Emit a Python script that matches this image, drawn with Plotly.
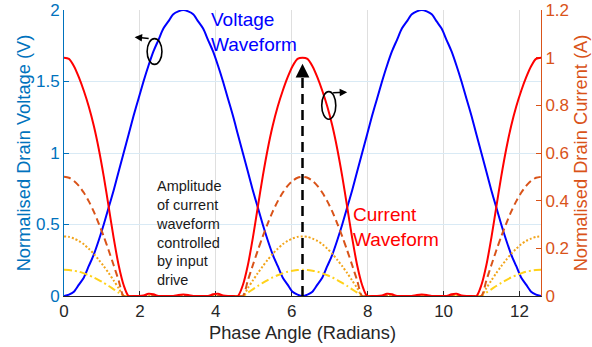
import plotly.graph_objects as go

# Phase angle samples (radians), 0 .. 4*pi in steps of pi/24
phase = [0.000, 0.131, 0.262, 0.393, 0.524, 0.654, 0.785, 0.916, 1.047, 1.178,
         1.309, 1.440, 1.571, 1.702, 1.833, 1.963, 2.094, 2.225, 2.356, 2.487,
         2.618, 2.749, 2.880, 3.011, 3.142, 3.272, 3.403, 3.534, 3.665, 3.796,
         3.927, 4.058, 4.189, 4.320, 4.451, 4.581, 4.712, 4.843, 4.974, 5.105,
         5.236, 5.367, 5.498, 5.629, 5.760, 5.890, 6.021, 6.152, 6.283,
         6.414, 6.545, 6.676, 6.807, 6.938, 7.069, 7.199, 7.330, 7.461, 7.592,
         7.723, 7.854, 7.985, 8.116, 8.247, 8.378, 8.508, 8.639, 8.770, 8.901,
         9.032, 9.163, 9.294, 9.425, 9.556, 9.687, 9.817, 9.948, 10.079, 10.210,
         10.341, 10.472, 10.603, 10.734, 10.865, 10.996, 11.126, 11.257, 11.388, 11.519,
         11.650, 11.781, 11.912, 12.043, 12.174, 12.305, 12.435, 12.566]

# Normalised drain voltage (V), left axis
voltage = [0.00, 0.01, 0.03, 0.08, 0.13, 0.21, 0.29, 0.39, 0.50, 0.62,
           0.74, 0.87, 1.00, 1.13, 1.26, 1.38, 1.50, 1.61, 1.71, 1.79,
           1.87, 1.92, 1.97, 1.99, 2.00, 1.99, 1.97, 1.92, 1.87, 1.79,
           1.71, 1.61, 1.50, 1.38, 1.26, 1.13, 1.00, 0.87, 0.74, 0.62,
           0.50, 0.39, 0.29, 0.21, 0.13, 0.08, 0.03, 0.01, 0.00,
           0.01, 0.03, 0.08, 0.13, 0.21, 0.29, 0.39, 0.50, 0.62, 0.74,
           0.87, 1.00, 1.13, 1.26, 1.38, 1.50, 1.61, 1.71, 1.79, 1.87,
           1.92, 1.97, 1.99, 2.00, 1.99, 1.97, 1.92, 1.87, 1.79, 1.71,
           1.61, 1.50, 1.38, 1.26, 1.13, 1.00, 0.87, 0.74, 0.62, 0.50,
           0.39, 0.29, 0.21, 0.13, 0.08, 0.03, 0.01, 0.00]

# Normalised drain current (A), right axis - full input drive
current_full = [1.000, 0.995, 0.964, 0.917, 0.860, 0.794, 0.714, 0.617, 0.502, 0.373,
                0.243, 0.129, 0.046, 0.000, 0.000, 0.000, 0.002, 0.009, 0.007, 0.000,
                0.000, 0.000, 0.000, 0.004, 0.006, 0.004, 0.000, 0.000, 0.000, 0.000,
                0.007, 0.009, 0.002, 0.000, 0.000, 0.000, 0.046, 0.129, 0.243, 0.373,
                0.502, 0.617, 0.714, 0.794, 0.860, 0.917, 0.964, 0.995, 1.000,
                0.995, 0.964, 0.917, 0.860, 0.794, 0.714, 0.617, 0.502, 0.373, 0.243,
                0.129, 0.046, 0.000, 0.000, 0.000, 0.002, 0.009, 0.007, 0.000, 0.000,
                0.000, 0.000, 0.004, 0.006, 0.004, 0.000, 0.000, 0.000, 0.000, 0.007,
                0.009, 0.002, 0.000, 0.000, 0.000, 0.046, 0.129, 0.243, 0.373, 0.502,
                0.617, 0.714, 0.794, 0.860, 0.917, 0.964, 0.995, 1.000]

# Reduced input drive levels
current_half = [0.500, 0.496, 0.483, 0.462, 0.433, 0.397, 0.354, 0.304, 0.250, 0.191,
                0.129, 0.065, 0.000, 0.000, 0.000, 0.000, 0.000, 0.000, 0.000, 0.000,
                0.000, 0.000, 0.000, 0.000, 0.000, 0.000, 0.000, 0.000, 0.000, 0.000,
                0.000, 0.000, 0.000, 0.000, 0.000, 0.000, 0.000, 0.065, 0.129, 0.191,
                0.250, 0.304, 0.354, 0.397, 0.433, 0.462, 0.483, 0.496, 0.500,
                0.496, 0.483, 0.462, 0.433, 0.397, 0.354, 0.304, 0.250, 0.191, 0.129,
                0.065, 0.000, 0.000, 0.000, 0.000, 0.000, 0.000, 0.000, 0.000, 0.000,
                0.000, 0.000, 0.000, 0.000, 0.000, 0.000, 0.000, 0.000, 0.000, 0.000,
                0.000, 0.000, 0.000, 0.000, 0.000, 0.000, 0.065, 0.129, 0.191, 0.250,
                0.304, 0.354, 0.397, 0.433, 0.462, 0.483, 0.496, 0.500]

current_quarter = [0.250, 0.248, 0.241, 0.231, 0.217, 0.198, 0.177, 0.152, 0.125, 0.096,
                   0.065, 0.033, 0.000, 0.000, 0.000, 0.000, 0.000, 0.000, 0.000, 0.000,
                   0.000, 0.000, 0.000, 0.000, 0.000, 0.000, 0.000, 0.000, 0.000, 0.000,
                   0.000, 0.000, 0.000, 0.000, 0.000, 0.000, 0.000, 0.033, 0.065, 0.096,
                   0.125, 0.152, 0.177, 0.198, 0.217, 0.231, 0.241, 0.248, 0.250,
                   0.248, 0.241, 0.231, 0.217, 0.198, 0.177, 0.152, 0.125, 0.096, 0.065,
                   0.033, 0.000, 0.000, 0.000, 0.000, 0.000, 0.000, 0.000, 0.000, 0.000,
                   0.000, 0.000, 0.000, 0.000, 0.000, 0.000, 0.000, 0.000, 0.000, 0.000,
                   0.000, 0.000, 0.000, 0.000, 0.000, 0.000, 0.033, 0.065, 0.096, 0.125,
                   0.152, 0.177, 0.198, 0.217, 0.231, 0.241, 0.248, 0.250]

current_low = [0.110, 0.109, 0.106, 0.102, 0.095, 0.087, 0.078, 0.067, 0.055, 0.042,
               0.028, 0.014, 0.000, 0.000, 0.000, 0.000, 0.000, 0.000, 0.000, 0.000,
               0.000, 0.000, 0.000, 0.000, 0.000, 0.000, 0.000, 0.000, 0.000, 0.000,
               0.000, 0.000, 0.000, 0.000, 0.000, 0.000, 0.000, 0.014, 0.028, 0.042,
               0.055, 0.067, 0.078, 0.087, 0.095, 0.102, 0.106, 0.109, 0.110,
               0.109, 0.106, 0.102, 0.095, 0.087, 0.078, 0.067, 0.055, 0.042, 0.028,
               0.014, 0.000, 0.000, 0.000, 0.000, 0.000, 0.000, 0.000, 0.000, 0.000,
               0.000, 0.000, 0.000, 0.000, 0.000, 0.000, 0.000, 0.000, 0.000, 0.000,
               0.000, 0.000, 0.000, 0.000, 0.000, 0.000, 0.014, 0.028, 0.042, 0.055,
               0.067, 0.078, 0.087, 0.095, 0.102, 0.106, 0.109, 0.110]

for series in (voltage, current_full, current_half, current_quarter, current_low):
    assert len(series) == len(phase), len(series)

x_ticks = [0, 2, 4, 6, 8, 10, 12]
v_ticks = [0, 0.5, 1, 1.5, 2]
v_tick_text = ["0", "0.5", "1", "1.5", "2"]
i_ticks = [0, 0.2, 0.4, 0.6, 0.8, 1.0, 1.2]
i_tick_text = ["0", "0.2", "0.4", "0.6", "0.8", "1", "1.2"]

# Peak of the full-drive current waveform (arrow target)
peak_idx = 48
peak_phase = phase[peak_idx]
peak_current = current_full[peak_idx]

BLUE_AX = "#0072BD"
ORANGE_AX = "#D95319"
FONT = "Liberation Sans, Arial, Helvetica, sans-serif"
SPLINE = dict(shape="spline", smoothing=0.8)

fig = go.Figure()

fig.add_trace(go.Scatter(x=phase, y=current_low, yaxis="y2", mode="lines",
                         line=dict(color="#FFD21A", width=2, dash="8px,3px,2px,3px", **SPLINE)))
fig.add_trace(go.Scatter(x=phase, y=current_quarter, yaxis="y2", mode="lines",
                         line=dict(color="#F2A51C", width=2, dash="2px,2px", **SPLINE)))
fig.add_trace(go.Scatter(x=phase, y=current_half, yaxis="y2", mode="lines",
                         line=dict(color=ORANGE_AX, width=2, dash="7px,4px", **SPLINE)))
fig.add_trace(go.Scatter(x=phase, y=current_full, yaxis="y2", mode="lines",
                         line=dict(color="#FF0000", width=2, **SPLINE)))
fig.add_trace(go.Scatter(x=phase, y=voltage, yaxis="y", mode="lines",
                         line=dict(color="#0000FF", width=2, **SPLINE)))

# Dashed shaft of the vertical arrow up to the current peak
fig.add_trace(go.Scatter(x=[peak_phase, peak_phase], y=[0, peak_current * 0.93], yaxis="y2",
                         mode="lines", line=dict(color="black", width=2.5, dash="10px,6px")))

annotations = [
    # arrowhead at the current peak
    dict(x=peak_phase, y=peak_current * 0.975, xref="x", yref="y2",
         ax=peak_phase, ay=peak_current * 0.92, axref="x", ayref="y2",
         showarrow=True, arrowhead=2, arrowsize=1.1, arrowwidth=2.5, arrowcolor="black",
         text=""),
    # arrow pointing to the left (voltage) axis
    dict(x=1.86, y=1.81, xref="x", yref="y", ax=2.27, ay=1.80, axref="x", ayref="y",
         showarrow=True, arrowhead=2, arrowsize=1, arrowwidth=1.5, arrowcolor="black",
         text=""),
    # arrow pointing to the right (current) axis
    dict(x=7.46, y=0.855, xref="x", yref="y2", ax=7.05, ay=0.853, axref="x", ayref="y2",
         showarrow=True, arrowhead=2, arrowsize=1, arrowwidth=1.5, arrowcolor="black",
         text=""),
    dict(x=3.83, y=1.845, xref="x", yref="y", xanchor="left", yanchor="middle",
         text="Voltage<br>Waveform", showarrow=False, align="left",
         font=dict(family=FONT, size=19, color="#0000FF")),
    dict(x=7.57, y=0.48, xref="x", yref="y", xanchor="left", yanchor="middle",
         text="Current<br>Waveform", showarrow=False, align="left",
         font=dict(family=FONT, size=19, color="#FF0000")),
    dict(x=2.37, y=0.443, xref="x", yref="y", xanchor="left", yanchor="middle",
         text="Amplitude<br>of current<br>waveform<br>controlled<br>by input<br>drive",
         showarrow=False, align="left",
         font=dict(family=FONT, size=14.5, color="#1a1a1a")),
]

shapes = [
    dict(type="circle", xref="x", yref="y", x0=2.19, x1=2.58, y0=1.62, y1=1.80,
         line=dict(color="black", width=1.6)),
    dict(type="circle", xref="x", yref="y", x0=6.79, x1=7.16, y0=1.236, y1=1.429,
         line=dict(color="black", width=1.6)),
]

fig.update_layout(
    width=592, height=347,
    margin=dict(l=64, r=51, t=10, b=51, autoexpand=False),
    paper_bgcolor="white", plot_bgcolor="white",
    showlegend=False,
    font=dict(family=FONT, size=17, color="#262626"),
    annotations=annotations,
    shapes=shapes,
    xaxis=dict(
        range=[0, 12.566], tickvals=x_ticks, ticktext=[str(t) for t in x_ticks],
        showgrid=True, gridcolor="#DFDFDF", gridwidth=1,
        showline=True, linecolor="#262626", linewidth=1,
        ticks="inside", ticklen=5, tickcolor="#262626",
        tickfont=dict(size=17, color="#262626"), zeroline=False,
        layer="below traces", automargin=False,
        title=dict(text="Phase Angle (Radians)", font=dict(size=18.3, color="#262626"),
                   standoff=5),
    ),
    yaxis=dict(
        range=[0, 2], tickvals=v_ticks, ticktext=v_tick_text,
        showgrid=True, gridcolor="#D9EAF5", gridwidth=1,
        showline=True, linecolor=BLUE_AX, linewidth=1,
        ticks="inside", ticklen=5, tickcolor=BLUE_AX,
        tickfont=dict(size=17, color=BLUE_AX), zeroline=False,
        layer="below traces", automargin=False,
        title=dict(text="Normalised Drain Voltage (V)", font=dict(size=18.3, color=BLUE_AX),
                   standoff=0),
    ),
    yaxis2=dict(
        range=[0, 1.2], tickvals=i_ticks, ticktext=i_tick_text,
        overlaying="y", side="right", showgrid=False,
        showline=True, linecolor=ORANGE_AX, linewidth=1,
        ticks="inside", ticklen=5, tickcolor=ORANGE_AX,
        tickfont=dict(size=17, color=ORANGE_AX), zeroline=False,
        layer="below traces", automargin=False,
        title=dict(text="Normalised Drain Current (A)", font=dict(size=18.3, color=ORANGE_AX),
                   standoff=6),
    ),
)

fig.write_html("out.html")
